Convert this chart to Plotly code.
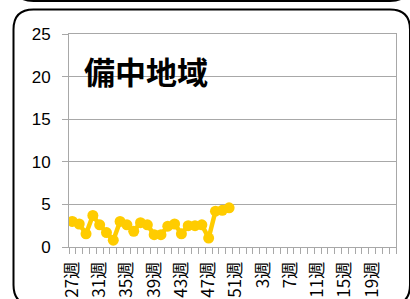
import plotly.graph_objects as go

# ---- data ----
weeks = [f"{w}週" for w in list(range(27, 53)) + list(range(1, 23))]
values = [3.0, 2.7, 1.55, 3.7, 2.6, 1.7, 0.8, 3.0, 2.6, 1.85, 2.85, 2.6,
          1.45, 1.45, 2.45, 2.7, 1.55, 2.5, 2.5, 2.6, 1.05, 4.2, 4.3, 4.6]
values = values + [None] * (len(weeks) - len(values))
label_weeks = ["27週", "31週", "35週", "39週", "43週", "47週", "51週",
               "3週", "7週", "11週", "15週", "19週"]
title_text = "備中地域"
y_ticks = [0, 5, 10, 15, 20, 25]

# ---- layout geometry (pixels) ----
W, H = 410, 299
L, R, T, B = 69, 396, 34, 247
PW, PH = R - L, B - T


def px(x):
    return (x - L) / PW


def py(y):
    return (B - y) / PH


def path(cmds):
    out = []
    for c in cmds:
        if isinstance(c, str):
            out.append(c)
        else:
            out.append(f"{px(c[0]):.5f},{py(c[1]):.5f}")
    return " ".join(out)


fig = go.Figure()
fig.add_trace(go.Scatter(
    x=weeks, y=values, mode="lines+markers",
    line=dict(color="#FFCC00", width=4.5),
    marker=dict(color="#FFCC00", size=11),
    connectgaps=False, hoverinfo="skip", showlegend=False,
))

ticktext = [w if w in label_weeks else "" for w in weeks]

grid = "#a8a8a8"
fig.update_layout(
    width=W, height=H,
    margin=dict(l=L, r=W - R, t=T, b=H - B, autoexpand=False),
    paper_bgcolor="white", plot_bgcolor="white",
    font=dict(family="Liberation Sans, Arial, Noto Sans CJK JP", color="#000"),
    xaxis=dict(
        type="category", categoryorder="array", categoryarray=weeks,
        range=[-0.5, len(weeks) - 0.5],
        tickmode="array", tickvals=weeks, ticktext=ticktext,
        tickangle=-90, tickson="boundaries", ticks="outside", ticklen=6,
        tickcolor=grid, showline=True, linecolor=grid, linewidth=1, mirror=True,
        showgrid=False, automargin=False,
        tickfont=dict(family="Noto Sans CJK JP", size=17, color="#000"),
        ticklabelstandoff=7,
    ),
    yaxis=dict(
        range=[0, 25], tickmode="array", tickvals=y_ticks,
        ticks="outside", ticklen=6, tickcolor=grid,
        showline=True, linecolor=grid, linewidth=1, mirror=True,
        showgrid=True, gridcolor=grid, gridwidth=1, zeroline=False,
        automargin=False,
        tickfont=dict(family="Liberation Sans, Arial", size=17, color="#000"),
        ticklabelstandoff=8,
    ),
)

# white box behind title hiding gridline
fig.add_shape(type="rect", xref="paper", yref="paper", layer="between",
              x0=px(70), x1=px(217), y0=py(86), y1=py(55),
              fillcolor="white", line=dict(width=0))
fig.add_annotation(xref="paper", yref="paper", x=px(82), y=py(70),
                   xanchor="left", yanchor="middle", showarrow=False,
                   text=f"<b>{title_text}</b>",
                   font=dict(family="Noto Sans CJK JP", size=31, color="#000"))

# outer rounded frame
frame = path(["M", (33.5, 9.5), "L", (390, 9.5), "Q", (410, 9.5), (410, 29.5),
              "L", (410, 285), "Q", (410, 305), (390, 305), "L", (33.5, 305),
              "Q", (13.5, 305), (13.5, 285), "L", (13.5, 29.5),
              "Q", (13.5, 9.5), (33.5, 9.5), "Z"])
fig.add_shape(type="path", xref="paper", yref="paper", path=frame,
              line=dict(color="black", width=2), layer="above")
upper = path(["M", (13.5, -30), "L", (13.5, -19), "Q", (13.5, 1), (33.5, 1),
              "L", (390, 1), "Q", (410, 1), (410, -19)])
fig.add_shape(type="path", xref="paper", yref="paper", path=upper,
              line=dict(color="black", width=2), layer="above")

fig.write_html("out.html", config={"displayModeBar": False},
               post_script="document.body.style.margin='0';document.body.style.overflow='hidden';")
